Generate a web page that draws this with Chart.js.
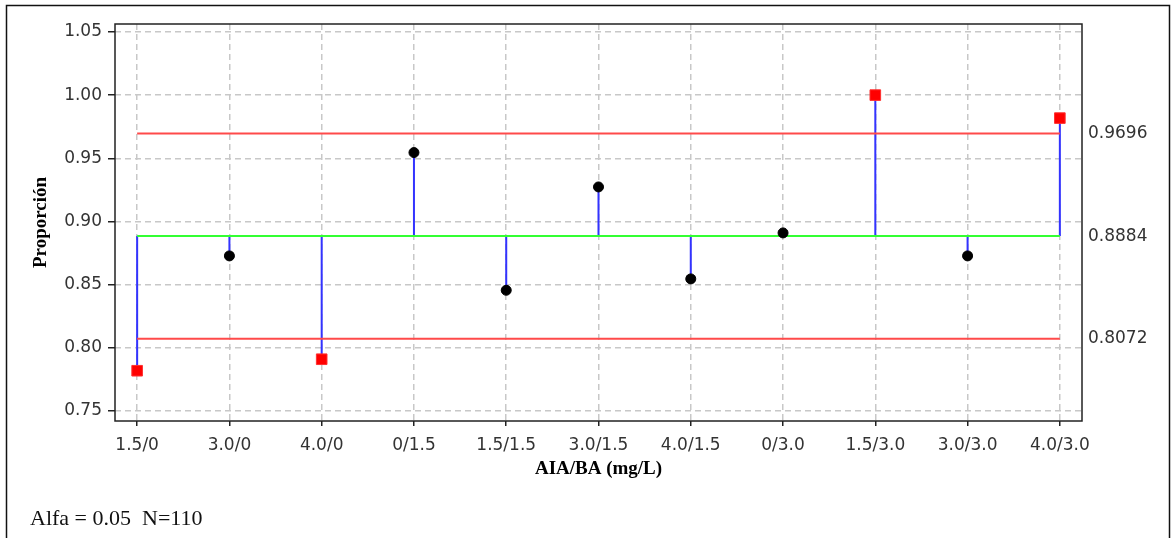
<!DOCTYPE html>
<html>
<head>
<meta charset="utf-8">
<script src="https://cdn.jsdelivr.net/npm/chart.js@4"></script>
<style>
  html, body { margin: 0; padding: 0; background: #fff; }
  canvas { display: block; }
</style>
</head>
<body>
<canvas id="chart" width="1175" height="538"></canvas>
<script>
// Treatment groups (AIA/BA concentrations) and observed proportions
const categories = ['1.5/0', '3.0/0', '4.0/0', '0/1.5', '1.5/1.5', '3.0/1.5', '4.0/1.5', '0/3.0', '1.5/3.0', '3.0/3.0', '4.0/3.0'];
const proportions = [0.7818, 0.8727, 0.7909, 0.9545, 0.8455, 0.9273, 0.8545, 0.8909, 1.0000, 0.8727, 0.9818];

// Analysis-of-means decision limits
const centerLine = 0.8884;
const upperLimit = 0.9696;
const lowerLimit = 0.8072;
const limitTicks = [lowerLimit, centerLine, upperLimit];

// Left axis tick values
const yTicks = [0.75, 0.80, 0.85, 0.90, 0.95, 1.00, 1.05];

const footerText = 'Alfa = 0.05  N=110';

const lastIndex = categories.length - 1;
const isOutside = v => v > upperLimit || v < lowerLimit;

// Vertical stems from the centre line to each proportion (gaps between them)
const stemData = [];
proportions.forEach((v, i) => {
  stemData.push({ x: i, y: centerLine }, { x: i, y: v }, { x: i, y: null });
});

const pointData = proportions.map((v, i) => ({ x: i, y: v }));
const hLine = y => [{ x: 0, y }, { x: lastIndex, y }];

const tickFont = { family: '"DejaVu Sans", sans-serif', size: 17 };
const titleFont = { family: '"Liberation Serif", "Times New Roman", serif', size: 19, weight: 'bold' };
const gridStyle = {
  color: '#c8c8c8',
  lineWidth: 1.5,
  tickColor: '#222',
  tickBorderDash: [],
  tickWidth: 1.5
};
// In Chart.js v4 the grid-line dash pattern lives under border.dash
const dashedBorder = { display: false, dash: [6, 4] };

const framePlugin = {
  id: 'frame',
  beforeDraw(chart) {
    const ctx = chart.ctx;
    ctx.save();
    ctx.fillStyle = '#fff';
    ctx.fillRect(0, 0, chart.width, chart.height);
    ctx.strokeStyle = '#111';
    ctx.lineWidth = 1.5;
    ctx.strokeRect(6.5, 5.5, 1163, 545);
    ctx.restore();
  },
  beforeDatasetsDraw(chart) {
    const { ctx, chartArea: a } = chart;
    ctx.save();
    ctx.strokeStyle = '#222';
    ctx.lineWidth = 1.5;
    ctx.strokeRect(a.left, a.top, a.right - a.left, a.bottom - a.top);
    ctx.restore();
  },
  afterDraw(chart) {
    const ctx = chart.ctx;
    ctx.save();
    ctx.fillStyle = '#111';
    ctx.font = '22px "Liberation Serif", "Times New Roman", serif';
    ctx.textBaseline = 'middle';
    ctx.textAlign = 'left';
    ctx.fillText(footerText, 30, 519);
    ctx.restore();
  }
};

new Chart(document.getElementById('chart'), {
  type: 'scatter',
  data: {
    datasets: [
      {
        type: 'scatter',
        data: pointData,
        order: 0,
        pointStyle: ctx => isOutside(ctx.raw.y) ? 'rect' : 'circle',
        pointRadius: ctx => isOutside(ctx.raw.y) ? 7.5 : 5,
        backgroundColor: ctx => isOutside(ctx.raw.y) ? '#ff0000' : '#000000',
        borderColor: ctx => isOutside(ctx.raw.y) ? '#ff3030' : '#000000',
        borderWidth: 1
      },
      {
        type: 'line', data: hLine(upperLimit), order: 1,
        borderColor: '#ff4a4a', borderWidth: 2, pointRadius: 0, fill: false
      },
      {
        type: 'line', data: hLine(lowerLimit), order: 1,
        borderColor: '#ff4a4a', borderWidth: 2, pointRadius: 0, fill: false
      },
      {
        type: 'line', data: hLine(centerLine), order: 1,
        borderColor: '#33ff33', borderWidth: 2, pointRadius: 0, fill: false
      },
      {
        type: 'line', data: stemData, order: 2, spanGaps: false,
        borderColor: '#3333ff', borderWidth: 2, pointRadius: 0, fill: false
      }
    ]
  },
  options: {
    responsive: false,
    animation: false,
    devicePixelRatio: 1,
    layout: { padding: { left: 7, right: 7, top: 24, bottom: 48 } },
    plugins: { legend: { display: false }, tooltip: { enabled: false } },
    scales: {
      x: {
        type: 'linear',
        position: 'bottom',
        min: -0.24,
        max: 10.24,
        afterBuildTicks: s => { s.ticks = categories.map((_, i) => ({ value: i })); },
        afterFit: s => { s.height = 69; },
        grid: Object.assign({}, gridStyle, { tickLength: 5 }),
        border: dashedBorder,
        ticks: {
          font: tickFont, color: '#333', padding: 9, maxRotation: 0, autoSkip: false,
          callback: v => categories[v]
        },
        title: { display: true, text: 'AIA/BA (mg/L)', font: titleFont, color: '#000', padding: { top: 0, bottom: 10 } }
      },
      y: {
        type: 'linear',
        position: 'left',
        min: 0.742,
        max: 1.0563,
        afterBuildTicks: s => { s.ticks = yTicks.map(v => ({ value: v })); },
        afterFit: s => { s.width = 108; },
        grid: Object.assign({}, gridStyle, { tickLength: 7 }),
        border: dashedBorder,
        ticks: { font: tickFont, color: '#333', padding: 6, callback: v => v.toFixed(2) },
        title: { display: true, text: 'Proporción', font: titleFont, color: '#000', padding: { top: 23, bottom: 0 } }
      },
      y2: {
        type: 'linear',
        position: 'right',
        min: 0.742,
        max: 1.0563,
        afterBuildTicks: s => { s.ticks = limitTicks.map(v => ({ value: v })); },
        afterFit: s => { s.width = 86; },
        grid: { display: false, drawTicks: false, tickLength: 0 },
        border: { display: false },
        ticks: { font: tickFont, color: '#333', padding: 6, callback: v => v.toFixed(4) }
      }
    }
  },
  plugins: [framePlugin]
});
</script>
</body>
</html>
